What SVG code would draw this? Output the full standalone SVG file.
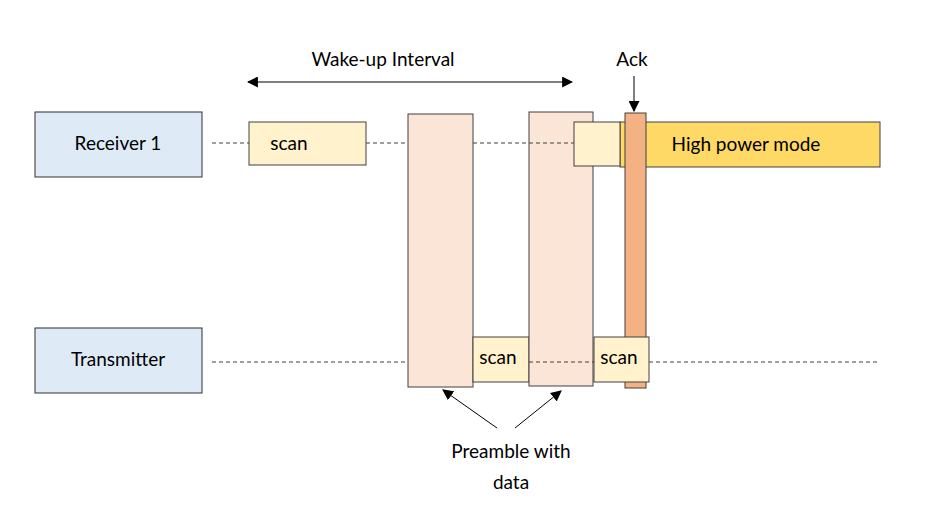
<svg xmlns="http://www.w3.org/2000/svg" width="934" height="516" viewBox="0 0 934 516">
<style>
text{font-family:Lato,"Open Sans","Liberation Sans",sans-serif;font-size:19px;fill:#000}
.lbl{fill:#DEEBF7;stroke:#2f2f2f;stroke-width:1}
.scan{fill:#FFF2CC;stroke:#404040;stroke-width:1}
.pre{fill:#FBE5D6;stroke:#404040;stroke-width:1}
.ack{fill:#F4B183;stroke:#404040;stroke-width:1}
.hp{fill:#FFD966;stroke:#404040;stroke-width:1}
.dash{stroke:#404040;stroke-width:1;stroke-dasharray:4 3;fill:none}
.arr{stroke:#000;stroke-width:1;fill:none}
</style>
<defs>
<marker id="ah" viewBox="0 0 10 10" refX="9" refY="5" markerWidth="11" markerHeight="11" markerUnits="userSpaceOnUse" orient="auto-start-reverse">
<path d="M0,0 L10,5 L0,10 z" fill="#000"/>
</marker>
</defs>
<rect width="934" height="516" fill="#fff"/>
<g id="receiver1"><rect class="lbl" x="35" y="112" width="167" height="65"/><text x="118" y="150" text-anchor="middle">Receiver 1</text></g>
<g id="transmitter"><rect class="lbl" x="35" y="328" width="167" height="65"/><text x="118" y="366" text-anchor="middle">Transmitter</text></g>
<g id="highpower"><rect class="hp" x="620" y="122" width="260" height="45"/><text x="746" y="151" text-anchor="middle">High power mode</text></g>
<g id="rx-scan"><rect class="scan" x="249" y="122" width="117" height="43"/><text x="289" y="150" text-anchor="middle">scan</text></g>
<g id="preamble1"><rect class="pre" x="408" y="114" width="65" height="273"/></g>
<g id="tx-scan1"><rect class="scan" x="473" y="337" width="56" height="45"/><text x="498" y="364" text-anchor="middle">scan</text></g>
<g id="preamble2"><rect class="pre" x="529" y="112" width="64" height="274"/></g>
<g id="connectors">
<line class="dash" x1="212" y1="143" x2="249" y2="143"/>
<line class="dash" x1="366" y1="143" x2="408" y2="143"/>
<line class="dash" x1="473" y1="143" x2="574" y2="143"/>
<line class="dash" x1="212" y1="362" x2="408" y2="362"/>
<line class="dash" x1="529" y1="362" x2="594" y2="362"/>
<line class="dash" x1="649" y1="362" x2="880" y2="362"/>
<line class="arr" x1="248" y1="82" x2="572" y2="82" marker-start="url(#ah)" marker-end="url(#ah)"/>
<line class="arr" x1="634" y1="76" x2="634" y2="111" marker-end="url(#ah)"/>
<line class="arr" x1="497" y1="428" x2="443" y2="390" marker-end="url(#ah)"/>
<line class="arr" x1="515" y1="428" x2="561" y2="391" marker-end="url(#ah)"/>
</g>
<g id="rx-scan2"><rect class="scan" x="574" y="122" width="46" height="44"/></g>
<g id="ack"><rect class="ack" x="625" y="113" width="21" height="275"/></g>
<g id="tx-scan2"><rect class="scan" x="594" y="337" width="55" height="45"/><text x="619" y="364" text-anchor="middle">scan</text></g>
<g id="labels">
<text x="383" y="66" text-anchor="middle">Wake-up Interval</text>
<text x="632" y="66" text-anchor="middle">Ack</text>
<text x="511" y="458" text-anchor="middle">Preamble with</text>
<text x="511" y="489" text-anchor="middle">data</text>
</g>
</svg>
